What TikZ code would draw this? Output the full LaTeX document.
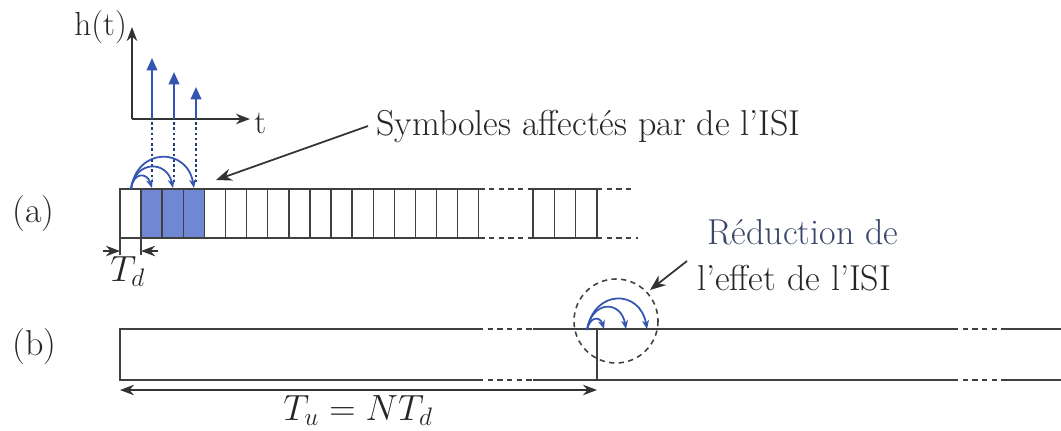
\documentclass[tikz,border=0pt]{standalone}
\usetikzlibrary{arrows.meta}
\definecolor{isiblue}{RGB}{52,86,176}
\definecolor{cellblue}{RGB}{112,136,212}
\begin{document}
\begin{tikzpicture}[
  x=0.02cm, y=-0.02cm,
  every node/.style={font=\fontsize{20.5}{24}\selectfont, text=black!85, inner sep=0pt},
  small/.style={font=\fontsize{19}{23}\selectfont},
  frame/.style={draw=black!75, line width=0.8pt},
  gap/.style={draw=black!75, line width=0.8pt, dash pattern=on 3pt off 2.5pt},
  isi/.style={draw=isiblue, line width=1pt, -{Stealth[length=5pt,width=4pt]}},
  stem/.style={draw=isiblue, line width=1.2pt, -{Triangle[length=7pt,width=6pt]}},
  drop/.style={draw=isiblue!70!black, line width=0.9pt, dash pattern=on 1.5pt off 1.5pt},
  axis/.style={draw=black!80, line width=1pt, -{Stealth[length=8pt,width=6pt]}},
  pointer/.style={draw=black!80, line width=1pt, -{Stealth[length=9pt,width=7pt]}}
]
\useasboundingbox (0,0) rectangle (1061,430);

\coordinate (o) at (132,119);
\draw[axis] (o) -- (132,27);
\draw[axis] (o) -- (250,119);
\node[small, anchor=base west] (ht) at (74,35) {h(t)};
\node[small, anchor=base west] (t) at (254,133) {t};
\foreach \x/\y [count=\k] in {152/58,174/72,196/87} {
  \draw[stem] (\x,119) -- (\x,\y);
  \draw[drop] (\x,122) -- (\x,182);
}

\fill[cellblue] (141.1,189) rectangle (204.4,238);
\foreach \i in {0,...,16}
  \draw[frame] (120+21.1*\i,189) rectangle ++(21.1,49);
\foreach \i in {0,1,2}
  \draw[frame] (533+21.3*\i,189) rectangle ++(21.3,49);
\draw[gap] (479.4,189) -- (533,189) (479.4,238) -- (533,238);
\draw[gap] (597,189) -- (632,189) (597,238) -- (638,238);
\draw[isi] (131,189) .. controls (133,172) and (147,172) .. (152,188);
\draw[isi] (131,189) .. controls (135,160) and (167,160) .. (173,188);
\draw[isi] (131,189) .. controls (137,147) and (187,147) .. (194,188);
\node[anchor=base west] (a) at (12,222) {(a)};

\coordinate (sym) at (216,180);
\node[anchor=base west] (symlab) at (376,135) {Symboles affect\'es par de l'ISI};
\draw[pointer] (368,126) -- (sym);

\draw[frame] (120,238) -- (120,255) (141.1,238) -- (141.1,255);
\draw[axis] (103,251) -- (120,251);
\draw[axis] (158,251) -- (141.1,251);
\node[anchor=base west] (td) at (110,281) {$T_d$};

\draw[frame] (478,329) -- (120,329) -- (120,380) -- (478,380);
\draw[gap] (478,329) -- (533,329) (478,380) -- (533,380);
\draw[frame] (533,329) -- (953,329) (533,380) -- (953,380);
\draw[frame] (597,329) -- (597,380);
\draw[gap] (953,329) -- (1005,329) (953,380) -- (1005,380);
\draw[frame] (1005,329) -- (1061,329) (1005,380) -- (1061,380);
\node[anchor=base west] (b) at (12,355) {(b)};

\draw[isi] (587,330) .. controls (590,316) and (600,316) .. (604,329);
\draw[isi] (587,330) .. controls (592,300) and (621,300) .. (626,329);
\draw[isi] (587,330) .. controls (594,289) and (640,289) .. (647,329);
\coordinate (zone) at (616,321);
\draw[draw=black!75, line width=0.9pt, dash pattern=on 3pt off 2.5pt] (zone) circle [radius=42];
\node[anchor=base west, text=isiblue!45!black!85] (red1) at (707,244) {R\'eduction de};
\node[anchor=base west] (red2) at (697,290) {l'effet de l'ISI};
\coordinate (zonetip) at (650,290);
\draw[pointer] (687,261) -- (zonetip);

\coordinate (tl) at (120,390);
\coordinate (tr) at (597,390);
\draw[draw=black!80, line width=1pt, {Stealth[length=8pt,width=6pt]}-{Stealth[length=8pt,width=6pt]}] (tl) -- (tr);
\node[anchor=base west] (tu) at (283,420) {$T_u = NT_d$};
\end{tikzpicture}
\end{document}
